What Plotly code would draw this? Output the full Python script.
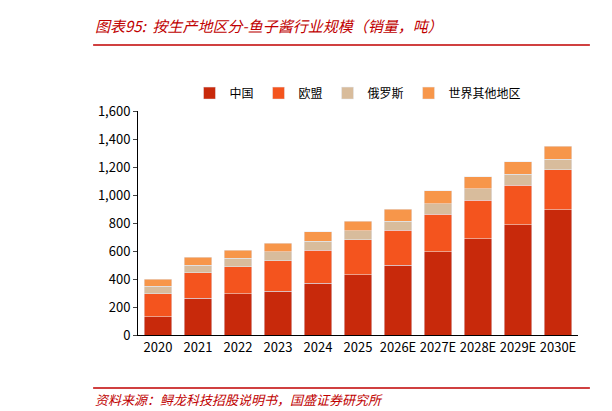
import plotly.graph_objects as go

years = ['2020', '2021', '2022', '2023', '2024', '2025', '2026E', '2027E', '2028E', '2029E', '2030E']
china = [129, 264, 293, 314, 371, 429, 500, 593, 686, 786, 893]
eu = [164, 179, 193, 215, 236, 250, 250, 271, 278, 285, 286]
russia = [57, 57, 64, 64, 64, 64, 64, 72, 79, 79, 78]
others = [50, 57, 57, 64, 65, 71, 86, 93, 86, 86, 93]

names = ['中国', '欧盟', '俄罗斯', '世界其他地区']
colors = ['#C8290B', '#F4541E', '#D8BC9C', '#F7964A']
series = [china, eu, russia, others]

fig = go.Figure()
for name, vals, c in zip(names, series, colors):
    fig.add_trace(go.Bar(x=years, y=vals, name=name, marker_color=c, width=0.68))

fig.update_layout(
    barmode='stack', width=612, height=411, plot_bgcolor='white', paper_bgcolor='white',
    font=dict(family='Noto Sans CJK SC', size=13, color='black'),
    margin=dict(l=130, r=42, t=103, b=84),
    legend=dict(orientation='h', x=0.5, xanchor='center', y=1.08, yanchor='middle',
                font=dict(size=12), traceorder='normal', itemwidth=30),
    showlegend=True,
)
fig.update_yaxes(range=[0, 1600], dtick=200, tickformat=',', showline=True, linecolor='black',
                 ticks='outside', ticklen=4, showgrid=False)
fig.update_xaxes(showline=True, linecolor='black', ticks='', showgrid=False)

fig.add_annotation(text='<i>图表95:  按生产地区分-鱼子酱行业规模（销量，吨）</i>', xref='paper', yref='paper',
                   x=-0.102, y=1.38, xanchor='left', yanchor='middle', showarrow=False,
                   font=dict(size=15, color='#C00000', family='Noto Sans CJK SC'))
fig.add_shape(type='line', xref='paper', yref='paper', x0=-0.102, x1=1.027, y0=1.295, y1=1.295,
              line=dict(color='#C00000', width=1.5))
fig.add_shape(type='line', xref='paper', yref='paper', x0=-0.102, x1=1.027, y0=-0.237, y1=-0.237,
              line=dict(color='#C00000', width=1.5))
fig.add_annotation(text='<i>资料来源：鲟龙科技招股说明书，国盛证券研究所</i>', xref='paper', yref='paper',
                   x=-0.102, y=-0.29, xanchor='left', yanchor='middle', showarrow=False,
                   font=dict(size=13, color='#C00000', family='Noto Sans CJK SC'))

fig.write_html('out.html')
